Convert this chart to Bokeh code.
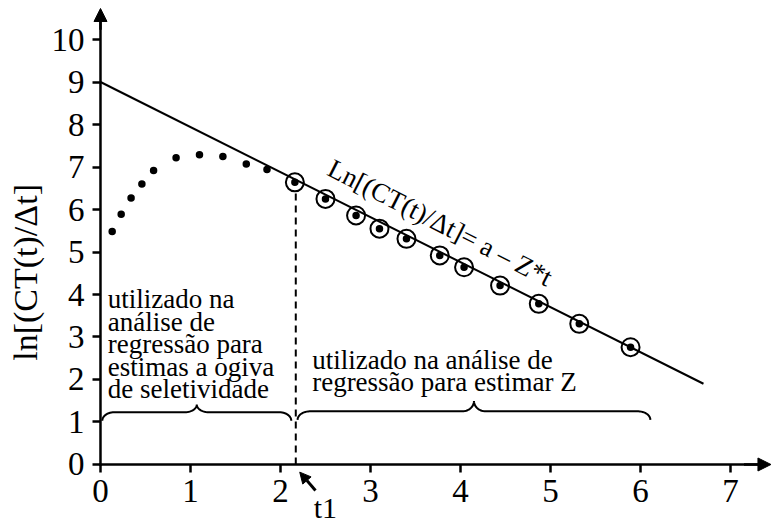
import numpy as np
from bokeh.plotting import figure
from bokeh.models import Label, Arrow, NormalHead, FixedTicker, Range1d
from bokeh.embed import file_html
from bokeh.resources import INLINE

# ---- data ----
rise_x = [0.13, 0.23, 0.34, 0.46, 0.59, 0.84, 1.10, 1.36, 1.62, 1.85]
rise_y = [5.48, 5.89, 6.27, 6.60, 6.92, 7.22, 7.29, 7.25, 7.07, 6.94]

fall_x = [2.16, 2.50, 2.84, 3.10, 3.40, 3.77, 4.04, 4.44, 4.87, 5.32, 5.89]
fall_y = [6.64, 6.25, 5.86, 5.55, 5.31, 4.92, 4.64, 4.21, 3.78, 3.31, 2.76]

reg_x = [0.0, 6.70]
reg_y = [9.0, 1.90]

t1_x = 2.17
t1_top = 6.43

x_ticks = [0, 1, 2, 3, 4, 5, 6, 7]
y_ticks = [0, 1, 2, 3, 4, 5, 6, 7, 8, 9, 10]

brace_start = [0.02, 2.19]
brace_end = [2.12, 6.11]
brace_mid = [1.07, 4.15]
brace_level = [1.23, 1.25]
brace_peak = [0.18, 0.24]
brace_depth = [0.20, 0.20]

text_left = "utilizado na\nanálise de\nregressão para\nestimas a ogiva\nde seletividade"
text_right = "utilizado na análise de\nregressão para estimar Z"
equation = "Ln[(CT(t)/Δt]= a – Z*t"
y_title = "ln[(CT(t)/Δt]"

FONT = "Liberation Serif"

X_START, X_END = -1.111, 7.456
Y_START, Y_END = -1.412, 10.918
X_TIP = 7.45
Y_TIP = 10.73

p = figure(width=771, height=524, frame_width=771, frame_height=524,
           x_range=Range1d(X_START, X_END), y_range=Range1d(Y_START, Y_END),
           output_backend="svg", toolbar_location=None,
           min_border_left=0, min_border_right=0, min_border_top=0, min_border_bottom=0)
p.outline_line_color = None
p.xgrid.visible = False
p.ygrid.visible = False
p.background_fill_color = "white"
p.border_fill_color = "white"

for ax in (p.xaxis[0], p.yaxis[0]):
    ax.fixed_location = 0
    ax.axis_line_color = None
    ax.major_tick_line_width = 2.5
    ax.major_tick_line_color = "black"
    ax.major_tick_in = 0
    ax.major_tick_out = 8
    ax.minor_tick_line_color = None
    ax.major_label_text_font = FONT
    ax.major_label_text_font_size = "33px"
    ax.major_label_text_color = "black"

p.xaxis.ticker = FixedTicker(ticks=x_ticks)
p.yaxis.ticker = FixedTicker(ticks=y_ticks)
p.xaxis.major_label_text_align = "left"
p.xaxis.major_label_standoff = 8
p.yaxis.major_label_standoff = 8

# axis lines with arrowheads
p.segment(x0=[-0.015, 0], y0=[0, -0.03], x1=[X_TIP - 0.1, 0], y1=[0, Y_TIP - 0.2],
          line_width=2.5, line_color="black")
p.add_layout(Arrow(x_start=0, y_start=Y_TIP - 0.5, x_end=0, y_end=Y_TIP,
                   line_width=2.5, line_color="black",
                   end=NormalHead(size=13, fill_color="black", line_color="black", line_width=1)))
p.add_layout(Arrow(x_start=X_TIP - 0.3, y_start=0, x_end=X_TIP, y_end=0,
                   line_width=2.5, line_color="black",
                   end=NormalHead(size=13, fill_color="black", line_color="black", line_width=1)))

# regression line
p.line(reg_x, reg_y, line_width=2, line_color="black")

# dashed t1 line
p.segment(x0=[t1_x], y0=[0], x1=[t1_x], y1=[t1_top], line_width=2,
          line_color="black", line_dash="7 5")

# points
p.scatter(rise_x + fall_x, rise_y + fall_y, size=7.5, marker="circle",
          fill_color="black", line_color=None)
p.scatter(fall_x, fall_y, size=18, marker="circle", fill_color=None,
          line_color="black", line_width=2)

# braces
rx = 12 / 90.0
t = np.linspace(0, np.pi / 2, 14)
for xa, xb, xm, yf, pk, dp in zip(brace_start, brace_end, brace_mid, brace_level, brace_peak, brace_depth):
    x1 = xa + rx - rx * np.cos(t); y1 = yf - dp + dp * np.sin(t)
    x2 = xm - rx + rx * np.sin(t); y2 = yf + pk - pk * np.cos(t)
    x3 = xm + rx - rx * np.cos(t); y3 = yf + pk - pk * np.sin(t)
    x4 = xb - rx + rx * np.sin(t); y4 = yf - dp + dp * np.cos(t)
    bx = np.concatenate([x1, x2, x3, x4]); by = np.concatenate([y1, y2, y3, y4])
    p.line(bx, by, line_width=2, line_color="black")

# texts
p.add_layout(Label(x=0.08, y=4.24, text=text_left, text_font=FONT, text_font_size="27px",
                   text_baseline="top", text_align="left", text_line_height=0.75, text_color="black"))
p.add_layout(Label(x=2.352, y=2.82, text=text_right, text_font=FONT, text_font_size="27px",
                   text_baseline="top", text_align="left", text_line_height=0.75, text_color="black"))
p.add_layout(Label(x=2.548, y=7.01, text=equation, text_font=FONT, text_font_size="27px",
                   angle=-27, angle_units="deg", text_baseline="alphabetic", text_align="left",
                   text_color="black"))
p.add_layout(Label(x=-0.83, y=4.52, text=y_title, text_font=FONT, text_font_size="34px",
                   angle=90, angle_units="deg", text_baseline="middle", text_align="center",
                   text_color="black"))
p.add_layout(Label(x=2.37, y=-1.39, text="t1", text_font=FONT, text_font_size="30px",
                   text_baseline="bottom", text_align="left", text_color="black"))
p.add_layout(Arrow(x_start=2.389, y_start=-0.61, x_end=2.214, y_end=-0.18,
                   line_width=3, line_color="black",
                   end=NormalHead(size=11, fill_color="black", line_color="black", line_width=1)))

open("out.html", "w").write(file_html(p, INLINE))
